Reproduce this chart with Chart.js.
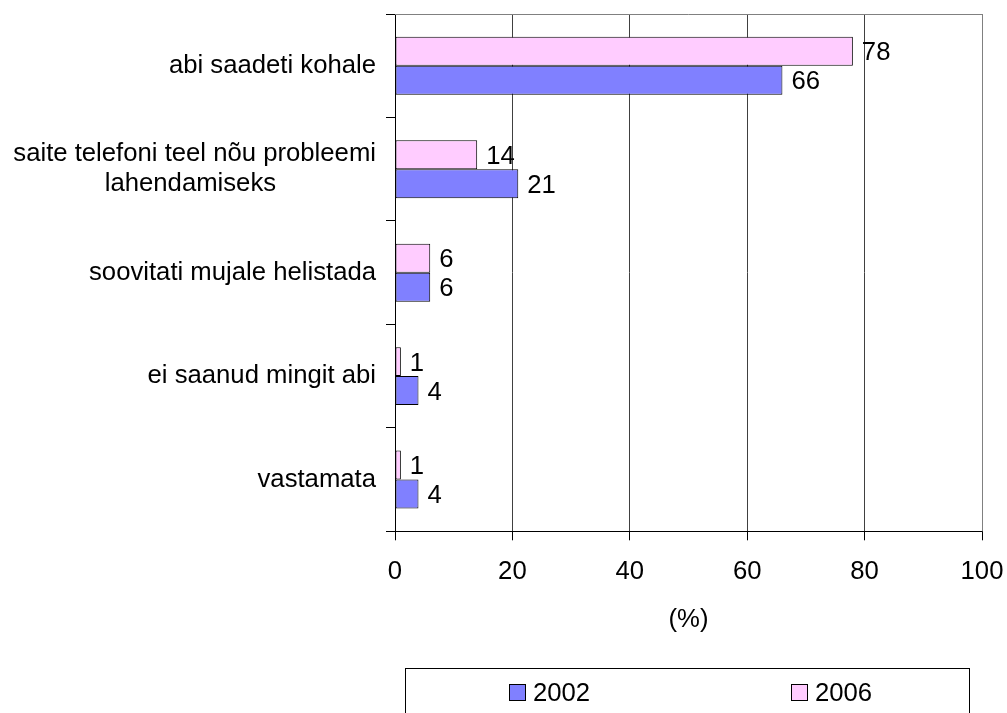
<!DOCTYPE html>
<html>
<head>
<meta charset="utf-8">
<script src="https://cdn.jsdelivr.net/npm/chart.js@4.4.1/dist/chart.umd.min.js"></script>
<style>
  html, body { margin: 0; padding: 0; background: #fff; }
  #wrap { width: 1007px; height: 713px; }
</style>
</head>
<body>
<div id="wrap"><canvas id="myChart" width="1007" height="713"></canvas></div>
<script>
let categories = [
    'abi saadeti kohale',
    ['saite telefoni teel nõu probleemi', 'lahendamiseks' + '\u00a0'.repeat(14)],
    'soovitati mujale helistada',
    'ei saanud mingit abi',
    'vastamata'
];
let values2006 = [78, 14, 6, 1, 1];
let values2002 = [66, 21, 6, 4, 4];
let xTicks = [0, 20, 40, 60, 80, 100];

let fontFamily = '"Liberation Sans", Arial, sans-serif';
let fontSize = 25.7;

// value labels to the right of each bar
let valueLabels = {
    id: 'valueLabels',
    afterDatasetsDraw(chart) {
        let ctx = chart.ctx;
        ctx.save();
        ctx.font = fontSize + 'px ' + fontFamily;
        ctx.fillStyle = '#000';
        ctx.textAlign = 'left';
        ctx.textBaseline = 'middle';
        chart.data.datasets.forEach((ds, i) => {
            chart.getDatasetMeta(i).data.forEach((bar, j) => {
                ctx.fillText(ds.data[j], bar.x + 9, bar.y + 2);
            });
        });
        ctx.restore();
    }
};

// grey frame on top and right of the plot area
let plotFrame = {
    id: 'plotFrame',
    beforeDatasetsDraw(chart) {
        let a = chart.chartArea;
        let ctx = chart.ctx;
        ctx.save();
        ctx.strokeStyle = '#808080';
        ctx.lineWidth = 1;
        ctx.beginPath();
        ctx.moveTo(a.left, a.top + 0.5);
        ctx.lineTo(a.right + 0.5, a.top + 0.5);
        ctx.lineTo(a.right + 0.5, a.bottom);
        ctx.stroke();
        ctx.restore();
    }
};

// boxed legend below the chart, 2002 first
let boxLegend = {
    id: 'boxLegend',
    afterDraw(chart) {
        let a = chart.chartArea;
        let ctx = chart.ctx;
        let left = a.left + 10, right = a.right - 13, top = 668;
        ctx.save();
        ctx.strokeStyle = '#000';
        ctx.lineWidth = 1;
        ctx.strokeRect(left + 0.5, top + 0.5, right - left, 60);
        ctx.font = fontSize + 'px ' + fontFamily;
        ctx.textBaseline = 'middle';
        ctx.textAlign = 'left';
        let items = chart.data.datasets.slice().reverse();
        let colW = (right - left) / items.length;
        items.forEach((ds, i) => {
            let w = 16 + 8 + ctx.measureText(ds.label).width;
            let x = Math.round(left + colW * i + (colW - w) / 2) + 4;
            ctx.fillStyle = ds.backgroundColor;
            ctx.fillRect(x, 684, 16, 16);
            ctx.strokeStyle = '#000';
            ctx.strokeRect(x + 0.5, 684.5, 16, 16);
            ctx.fillStyle = '#000';
            ctx.fillText(ds.label, x + 24, 694);
        });
        ctx.restore();
    }
};

let chart = new Chart(document.getElementById('myChart').getContext('2d'), {
    type: 'bar',
    data: {
        labels: categories,
        datasets: [{
            label: '2006',
            data: values2006,
            backgroundColor: '#FFCCFF',
            borderColor: '#000',
            borderWidth: 1,
            borderSkipped: false
        }, {
            label: '2002',
            data: values2002,
            backgroundColor: '#8080FF',
            borderColor: '#000',
            borderWidth: 1,
            borderSkipped: false
        }]
    },
    options: {
        indexAxis: 'y',
        responsive: false,
        animation: false,
        categoryPercentage: 0.56,
        barPercentage: 1,
        layout: { padding: { left: 8, right: 25, top: 14, bottom: 78 } },
        plugins: {
            legend: { display: false },
            tooltip: { enabled: false }
        },
        scales: {
            x: {
                min: 0,
                max: 100,
                afterBuildTicks: (scale) => { scale.ticks = xTicks.map(v => ({ value: v })); },
                afterFit: (scale) => { scale.paddingLeft = 0; scale.paddingRight = 0; },
                ticks: {
                    color: '#000',
                    font: { family: fontFamily, size: fontSize },
                    padding: 16.5
                },
                grid: {
                    color: (c) => (c.tick && c.tick.value === 100 ? '#808080' : '#404040'),
                    tickColor: '#000',
                    tickLength: 9
                },
                border: { color: '#000' },
                title: {
                    display: true,
                    text: '(%)',
                    color: '#000',
                    font: { family: fontFamily, size: fontSize },
                    padding: { top: 0, bottom: 0 }
                }
            },
            y: {
                afterFit: (scale) => { scale.width = 387; scale.paddingTop = 0; scale.paddingBottom = 0; },
                ticks: {
                    color: '#000',
                    font: { family: fontFamily, size: fontSize, lineHeight: 1.17 },
                    padding: 10
                },
                grid: {
                    offset: true,
                    drawOnChartArea: false,
                    tickColor: '#000',
                    tickLength: 9
                },
                border: { color: '#000' }
            }
        }
    },
    plugins: [valueLabels, plotFrame, boxLegend]
});
</script>
</body>
</html>
